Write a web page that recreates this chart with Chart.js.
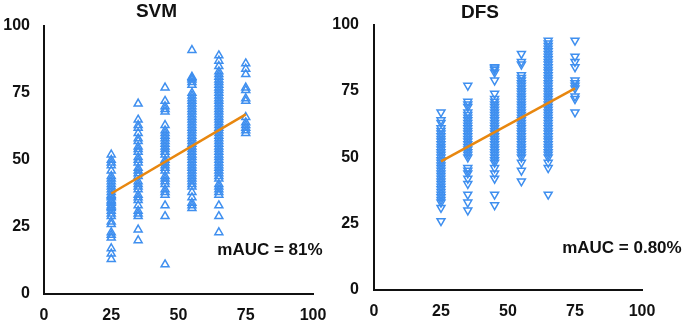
<!DOCTYPE html>
<html>
<head>
<meta charset="utf-8">
<script src="https://cdn.jsdelivr.net/npm/chart.js@4.4.1/dist/chart.umd.min.js"></script>
<style>
  body { margin: 0; background: #fff; overflow: hidden; width: 686px; height: 324px; position: relative; }
  .panel { position: absolute; top: 0; height: 324px; }
  #svmPanel { left: 0; width: 368px; }
  #dfsPanel { left: 318px; width: 418px; }
</style>
</head>
<body>
<div class="panel" id="svmPanel"><canvas id="svmChart"></canvas></div>
<div class="panel" id="dfsPanel"><canvas id="dfsChart"></canvas></div>
<script>
// Categories on the x axis
const xGroups = [25, 35, 45, 55, 65, 75];
const axisTicks = [0, 25, 50, 75, 100];

// SVM values per x group
const svm25 = [52, 50, 49, 48, 46, 44, 43, 42, 41, 40, 39, 38, 37, 36.5, 36, 35, 34.5, 34, 33, 32.5, 32, 31, 30, 29, 27, 26, 23, 22, 21, 17, 15, 13];
const svm35 = [71, 65, 63, 62, 60, 58, 57, 55, 54, 53, 51, 50, 49, 47, 46, 45, 44, 42, 41, 40, 39, 37, 36, 35, 33, 31, 30, 29, 24, 20];
const svm45 = [77, 72, 70, 69, 68, 63, 61, 60, 59, 58, 57, 56, 55, 54, 53, 52, 50, 49, 48, 47, 46, 44, 43, 42, 41, 39, 38, 37, 33, 29, 11];
const svm55 = [91, 81, 80.5, 80, 79, 78, 75, 74, 73, 72, 71, 70, 69, 68, 67, 66, 65, 64, 63, 62, 61, 60, 59, 58, 57, 56, 55, 54, 53, 52, 51, 50, 49, 48, 47, 46, 45, 44, 43, 42, 41, 40, 38, 36, 34, 33, 32];
const svm65 = [89, 87, 85, 83, 82, 81, 80, 79, 78, 77, 76, 75, 74, 73, 72, 71, 70, 69, 68, 67, 66, 65, 64, 63, 62, 61, 60, 59, 58, 57, 56, 55, 54, 53, 52, 51, 50, 49, 48, 47, 46, 45, 44, 43, 41, 40, 39, 38, 37, 33, 29, 23];
const svm75 = [86, 84, 82, 77, 76, 73, 72, 66, 64, 63, 62, 61, 60];

// DFS values per x group
const dfs25 = [67, 64, 63, 61, 60, 59, 58, 57, 56, 55, 54, 53, 52, 51, 50, 49, 48, 47, 46, 45, 44, 43, 42, 41, 40, 39, 38, 37, 36, 35, 34, 33, 31, 26];
const dfs35 = [77, 71, 70, 69, 67, 66, 65, 64, 63, 62, 61, 60, 59, 58, 57, 56, 55, 54, 53, 52, 51, 50, 46, 45, 44, 42, 40, 36, 33, 30];
const dfs45 = [84, 83.5, 83, 82, 79, 74, 72, 71, 70, 69, 68, 67, 66, 65, 64, 63, 62, 61, 60, 59, 58, 57, 56, 55, 54, 53, 52, 51, 50, 49, 48, 46, 44, 42, 36, 32];
const dfs55 = [89, 86, 85, 81, 80, 79, 78, 77, 76, 75, 74, 73, 72, 71, 70, 69, 68, 67, 66, 65, 64, 63, 62, 61, 60, 59, 58, 57, 56, 55, 54, 53, 52, 51, 50, 48, 45, 41];
const dfs65 = [94, 93, 92, 91, 90, 89, 88, 87, 86, 85, 84, 83, 82, 81, 80, 79, 78, 77, 76, 75, 74, 73, 72, 71, 70, 69, 68, 67, 66, 65, 64, 63, 62, 61, 60, 59, 58, 57, 56, 55, 54, 53, 52, 51, 50, 48, 46, 36];
const dfs75 = [94, 88, 86, 84, 79, 78, 77, 76, 73, 72, 67];

// Trend lines (endpoints at x = 25 and x = 75)
const fitX = [25, 75];
const svmFit = [37.5, 67];
const dfsFit = [48.5, 76];

const BLUE = "#3f8fef";
const ORANGE = "#e8870f";
const FONT = "'Liberation Sans', Arial, sans-serif";

// build {x, y} points from the group arrays
function toPoints(groups) {
  const pts = [];
  groups.forEach((vals, i) => {
    vals.forEach((v) => pts.push({ x: xGroups[i], y: v }));
  });
  return pts;
}

// small plugin to write the mAUC note at a data position
const notePlugin = {
  id: "note",
  afterDatasetsDraw(chart, args, opts) {
    const { ctx, scales } = chart;
    ctx.save();
    ctx.font = "bold 17px " + FONT;
    ctx.fillStyle = "#111";
    ctx.textAlign = "center";
    ctx.textBaseline = "middle";
    ctx.fillText(opts.text, scales.x.getPixelForValue(opts.x), scales.y.getPixelForValue(opts.y));
    ctx.restore();
  },
};

function makeChart(id, title, groups, fit, rotation, note, box) {
  return new Chart(document.getElementById(id), {
    type: "scatter",
    data: {
      datasets: [
        {
          type: "line",
          data: fitX.map((x, i) => ({ x: x, y: fit[i] })),
          borderColor: ORANGE,
          borderWidth: 2.5,
          pointRadius: 0,
          fill: false,
          order: 0,
        },
        {
          data: toPoints(groups),
          pointStyle: "triangle",
          pointRotation: rotation,
          pointRadius: 4.6,
          pointHoverRadius: 4.6,
          borderWidth: 1.5,
          borderColor: BLUE,
          backgroundColor: "rgba(255,255,255,0)",
          order: 1,
        },
      ],
    },
    options: {
      responsive: true,
      maintainAspectRatio: false,
      animation: false,
      layout: { padding: { left: 0, right: box.right, top: 0, bottom: 0 } },
      scales: {
        x: {
          type: "linear",
          min: 0,
          max: 100,
          grid: { display: false, drawTicks: false },
          border: { color: "#111", width: 2 },
          afterBuildTicks: (s) => { s.ticks = axisTicks.map((v) => ({ value: v })); },
          afterFit: (s) => { s.height = box.xHeight; },
          ticks: { color: "#111", padding: 12, font: { family: FONT, size: 16, weight: "bold" } },
        },
        y: {
          min: 0,
          max: 100,
          grid: { display: false, drawTicks: false },
          border: { color: "#111", width: 2 },
          afterBuildTicks: (s) => { s.ticks = axisTicks.map((v) => ({ value: v })); },
          afterFit: (s) => { s.width = box.yWidth; },
          ticks: { color: "#111", padding: box.yPad, font: { family: FONT, size: 16, weight: "bold" } },
        },
      },
      plugins: {
        legend: { display: false },
        tooltip: { enabled: false },
        title: {
          display: true,
          text: title,
          color: "#111",
          font: { family: FONT, size: 19, weight: "bold", lineHeight: 1.2 },
          padding: { top: 0, bottom: box.titleGap },
        },
        note: note,
      },
    },
    plugins: [notePlugin],
  });
}

makeChart("svmChart", "SVM", [svm25, svm35, svm45, svm55, svm65, svm75], svmFit, 0,
  { text: "mAUC = 81%", x: 84, y: 16.4 },
  { right: 55, xHeight: 30, yWidth: 44, yPad: 14, titleGap: 3.2 });

makeChart("dfsChart", "DFS", [dfs25, dfs35, dfs45, dfs55, dfs65, dfs75], dfsFit, 180,
  { text: "mAUC = 0.80%", x: 92.5, y: 15.7 },
  { right: 94, xHeight: 34, yWidth: 56, yPad: 15, titleGap: 0.2 });
</script>
</body>
</html>
